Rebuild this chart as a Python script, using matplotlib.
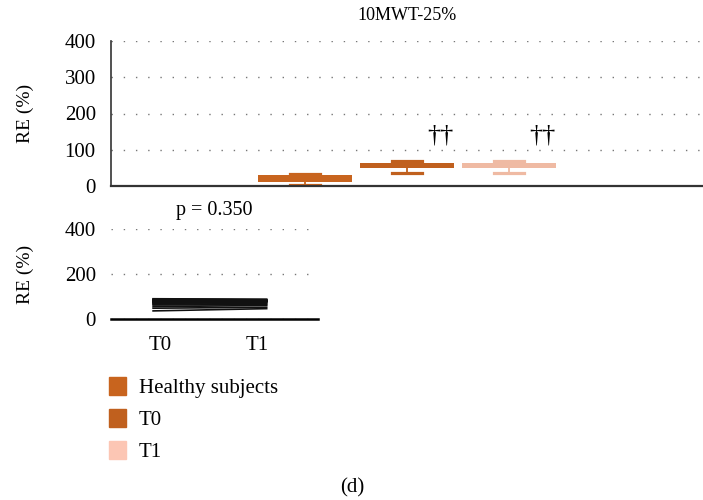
######################################################################
# 10MWT-25% relative error: box plots and paired T0/T1 lines
######################################################################

import matplotlib
matplotlib.use("Agg")
import matplotlib.pyplot as plt
from matplotlib.patches import Patch

plt.rcParams['font.family'] = ['Liberation Serif', 'DejaVu Serif']
plt.rcParams['font.size'] = 14

# data
groups = ["Healthy subjects", "T0", "T1"]
colors = ["#C8641E", "#C0601E", "#EFBAA3"]
legend_colors = ["#C8641E", "#C0601E", "#FCC6B4"]
box_q1 = [11, 50, 50]
box_q3 = [30, 63, 63]
box_med = [22, 57, 57]
whisk_lo = [3, 36, 37]
whisk_hi = [34, 70, 69]
dagger_groups = [1, 2]          # index of groups marked with ††
dagger_y = 140

t0_vals = [90, 88, 86, 85, 84, 82, 80, 78, 76, 74, 72, 70, 66, 62, 55, 48, 36]
t1_vals = [88, 86, 85, 84, 83, 82, 80, 79, 78, 77, 75, 72, 68, 64, 60, 52, 46]
p_text = "p = 0.350"

fig = plt.figure(figsize = (7.03, 5.0), dpi = 100)

######################################################################
# top panel: box plots
######################################################################

ax1 = fig.add_axes([0.158, 0.628, 0.842, 0.290])

stats = []
for i in range(3):
    stats.append(dict(q1 = box_q1[i], q3 = box_q3[i], med = box_med[i],
                      whislo = whisk_lo[i], whishi = whisk_hi[i], fliers = []))

pos = [1, 2, 3]
bp = ax1.bxp(stats, positions = pos, widths = 0.92, capwidths = 0.3,
             patch_artist = True, showfliers = False)
for i in range(3):
    bp['boxes'][i].set(facecolor = colors[i], edgecolor = colors[i], linewidth = 0)
    bp['medians'][i].set(color = colors[i], linewidth = 0)
    for k in (2 * i, 2 * i + 1):
        bp['whiskers'][k].set(color = colors[i], linewidth = 1.3)
        bp['caps'][k].set(color = colors[i], linewidth = 2.3)

for g in dagger_groups:
    ax1.text(pos[g] + 0.33, dagger_y, "††", ha = "center", va = "center",
             fontsize = 19)

ax1.set_xlim(-0.9, 4.9)
ax1.set_ylim(0, 400)
ax1.set_yticks([0, 100, 200, 300, 400])
ax1.set_xticks([])
ax1.tick_params(length = 0, pad = 11, labelsize = 15)
ax1.grid(axis = "y", color = "#777777", linestyle = (0, (1, 7.8)), linewidth = 1)
ax1.set_axisbelow(True)
for s in ("top", "right"):
    ax1.spines[s].set_visible(False)
ax1.spines["left"].set(color = "#333333", linewidth = 1.2)
ax1.spines["bottom"].set(color = "#333333", linewidth = 1.6)
ax1.set_title("10MWT-25%", fontsize = 13, pad = 15)
ax1.set_ylabel("RE (%)")
ax1.yaxis.set_label_coords(-0.13, 0.5)

######################################################################
# bottom panel: paired lines T0 -> T1
######################################################################

ax2 = fig.add_axes([0.158, 0.362, 0.294, 0.180])

for a, b in zip(t0_vals, t1_vals):
    ax2.plot([0, 1], [a, b], color = "#111111", linewidth = 1.2)

ax2.set_xlim(-0.37, 1.45)
ax2.set_ylim(0, 400)
ax2.set_yticks([0, 200, 400])
ax2.set_xticks([0.06, 0.92])
ax2.set_xticklabels(["T0", "T1"])
ax2.tick_params(length = 0, pad = 11, labelsize = 15)
ax2.tick_params(axis = "x", pad = 12)
ax2.grid(axis = "y", color = "#777777", linestyle = (0, (1, 7.8)), linewidth = 1)
ax2.set_axisbelow(True)
for s in ("top", "right", "left"):
    ax2.spines[s].set_visible(False)
ax2.spines["bottom"].set(color = "black", linewidth = 1.8)
ax2.set_title(p_text, fontsize = 14.5, pad = 10)
ax2.set_ylabel("RE (%)")
ax2.yaxis.set_label_coords(-0.372, 0.5)

######################################################################
# legend and panel letter
######################################################################

handles = [Patch(facecolor = c, edgecolor = c, label = g)
           for c, g in zip(legend_colors, groups)]
fig.legend(handles = handles, loc = "upper left",
           bbox_to_anchor = (109 / 703, 1 - 377 / 500),
           frameon = False, borderpad = 0, borderaxespad = 0,
           handlelength = 0.82, handleheight = 0.95, handletextpad = 0.62,
           labelspacing = 0.52, fontsize = 15)

fig.text(352 / 703, 1 - 488 / 500, "(d)", ha = "center", va = "center", fontsize = 15)

fig.savefig("out.png", dpi = 100)

######################################################################
# THE END
######################################################################
